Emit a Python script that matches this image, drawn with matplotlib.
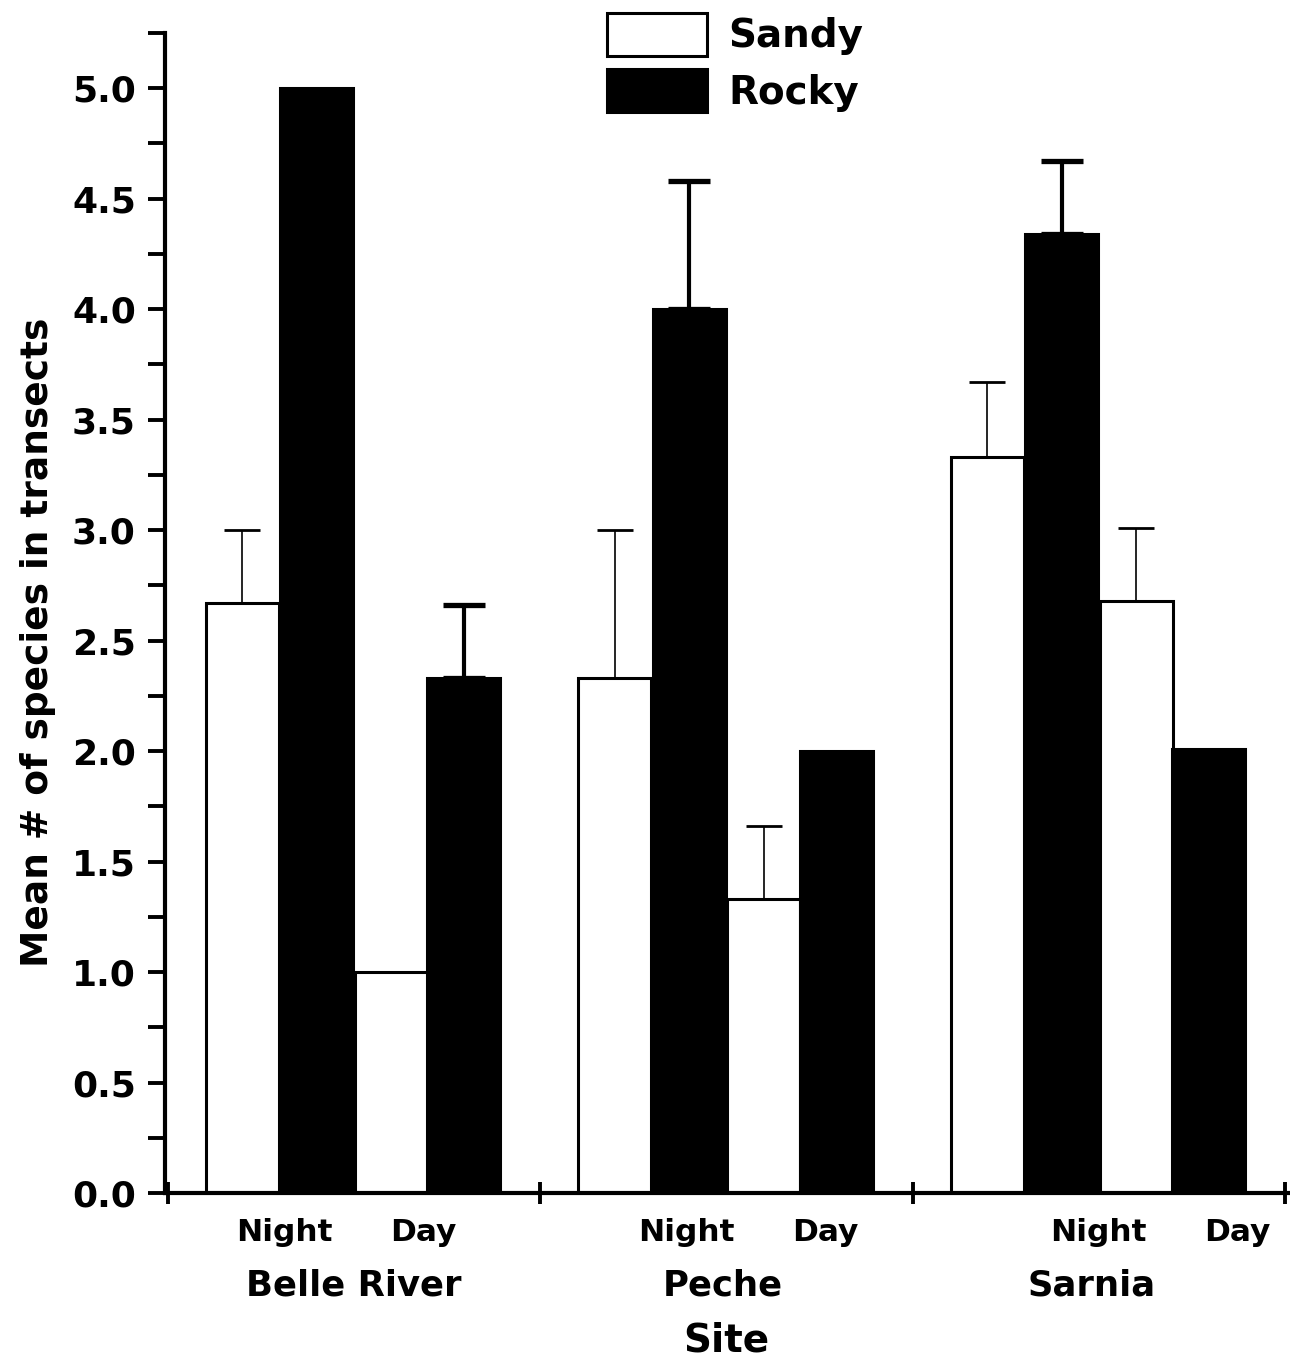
import matplotlib.pyplot as plt
import numpy as np

plt.rcParams['font.family'] = ['DejaVu Sans']
plt.rcParams['font.weight'] = 'bold'

sites = ['Belle River', 'Peche', 'Sarnia']
periods = ['Night', 'Day']

sandy_night = [2.67, 2.33, 3.33]
sandy_night_err = [0.33, 0.67, 0.34]
rocky_night = [5.0, 4.0, 4.34]
rocky_night_err = [0.0, 0.58, 0.33]
sandy_day = [1.0, 1.33, 2.68]
sandy_day_err = [0.0, 0.33, 0.33]
rocky_day = [2.33, 2.0, 2.01]
rocky_day_err = [0.33, 0.0, 0.0]

# hand-placed label offsets inside each site slot (as in the original)
night_lbl = [0.312, 0.392, 0.499]
day_lbl = [0.685, 0.765, 0.872]
site_lbl = [0.499, 0.491, 0.48]

fig = plt.figure(figsize=(12.9, 13.63), dpi=100)
ax = fig.add_axes([0.1279, 0.1247, 0.8705, 0.8511])

x = np.arange(len(sites))
w = 0.196
series = [
    (sandy_night, sandy_night_err, 0.20, 'white', 'Sandy'),
    (rocky_night, rocky_night_err, 0.40, 'black', 'Rocky'),
    (sandy_day, sandy_day_err, 0.60, 'white', None),
    (rocky_day, rocky_day_err, 0.795, 'black', None),
]

for vals, errs, off, color, label in series:
    xs = x + off
    ax.bar(xs, vals, width=w, color=color, edgecolor='black', linewidth=2.2,
           label=label, zorder=2)
    errs = np.array(errs)
    keep = errs > 0
    lw = 1.2 if color == 'white' else 3.0
    cap = 13 if color == 'white' else 15
    ax.errorbar(xs[keep], np.array(vals)[keep],
                yerr=[np.zeros(keep.sum()), errs[keep]],
                fmt='none', ecolor='black', elinewidth=lw, capsize=cap,
                capthick=lw + 0.8, zorder=1)

ax.set_xlim(-0.008, 3.008)
ax.set_ylim(0, 5.25)
ax.set_xticks([0, 1, 2, 3])
ax.set_xticklabels([])
ax.set_yticks(np.arange(0, 5.01, 0.5))
ax.set_yticks(np.arange(0.25, 5.26, 0.5), minor=True)
ax.set_yticklabels(['%.1f' % v for v in np.arange(0, 5.01, 0.5)],
                   fontsize=26, fontweight='bold')

ax.tick_params(axis='y', which='both', direction='out', length=12, width=2.8, pad=9)
ax.tick_params(axis='x', which='major', direction='inout', length=16, width=2.8)

for s in ['top', 'right']:
    ax.spines[s].set_visible(False)
for s in ['left', 'bottom']:
    ax.spines[s].set_linewidth(3)

tr = ax.get_xaxis_transform()
for i, site in enumerate(sites):
    ax.text(i + night_lbl[i], -0.0336, periods[0], transform=tr, ha='center',
            va='center', fontsize=22.5, fontweight='bold')
    ax.text(i + day_lbl[i], -0.0336, periods[1], transform=tr, ha='center',
            va='center', fontsize=22.5, fontweight='bold')
    ax.text(i + site_lbl[i], -0.0793, site, transform=tr, ha='center',
            va='center', fontsize=25.5, fontweight='bold')

ax.set_xlabel('Site', fontsize=28, fontweight='bold')
ax.xaxis.set_label_coords(0.5, -0.127)
ax.xaxis.label.set_va('center')
ax.set_ylabel('Mean # of species in transects', fontsize=27, fontweight='bold')
ax.yaxis.set_label_coords(-0.097, 0.475)

ax.legend(loc='upper left', bbox_to_anchor=(0.4705, 0.9905),
          bbox_transform=fig.transFigure, frameon=False, fontsize=28,
          handlelength=2.57, handleheight=1.31, labelspacing=0.35,
          handletextpad=0.55, borderpad=0, borderaxespad=0)

fig.savefig('out.png', dpi=100)
